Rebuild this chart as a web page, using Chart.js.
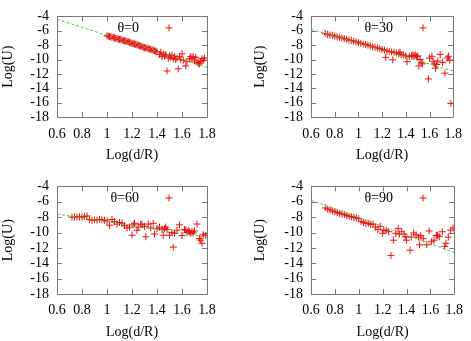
<!DOCTYPE html>
<html><head><meta charset="utf-8">
<script src="https://cdn.jsdelivr.net/npm/chart.js@4/dist/chart.umd.min.js"></script>
<style>
html,body{margin:0;padding:0;background:#fff;}
#wrap{position:relative;width:471px;height:341px;overflow:hidden;background:#fff;}
canvas{position:absolute;}
</style></head><body>
<div id="wrap">
<canvas id="c0" width="235" height="170" style="left:0px;top:0px;width:235px;height:170px"></canvas>
<canvas id="c1" width="236" height="170" style="left:235px;top:0px;width:236px;height:170px"></canvas>
<canvas id="c2" width="235" height="171" style="left:0px;top:170px;width:235px;height:171px"></canvas>
<canvas id="c3" width="236" height="171" style="left:235px;top:170px;width:236px;height:171px"></canvas>
</div>
<script>
// ---- data ----
const panelLabels = ['θ=0', 'θ=30', 'θ=60', 'θ=90'];
const xTickLabels = ['0.6', '0.8', '1', '1.2', '1.4', '1.6', '1.8'];
const yTickLabels = ['-18', '-16', '-14', '-12', '-10', '-8', '-6', '-4'];
const xTitle = 'Log(d/R)';
const yTitle = 'Log(U)';

const x0 = [1.00,1.01,1.02,1.03,1.04,1.05,1.06,1.07,1.08,1.09,1.10,1.11,1.12,1.13,1.14,1.15,1.16,1.17,1.18,1.19,1.20,1.21,1.22,1.23,1.24,1.25,1.26,1.27,1.28,1.29,1.30,1.31,1.32,1.33,1.34,1.35,1.36,1.37,1.38,1.39,1.40,1.42,1.43,1.44,1.45,1.46,1.47,1.48,1.49,1.50,1.51,1.52,1.53,1.54,1.55,1.56,1.57,1.58,1.59,1.60,1.61,1.63,1.64,1.66,1.67,1.68,1.69,1.70,1.71,1.72,1.73,1.74,1.75,1.76,1.77,1.78];
const y0 = [-6.7,-6.75,-6.8,-6.85,-6.9,-6.9,-7.0,-7.05,-7.1,-7.15,-7.2,-7.2,-7.3,-7.35,-7.4,-7.45,-7.5,-7.55,-7.6,-7.7,-7.75,-7.8,-7.85,-7.9,-7.95,-8.0,-8.1,-8.15,-8.2,-8.3,-8.35,-8.4,-8.4,-8.5,-8.55,-8.6,-8.65,-8.7,-8.8,-8.85,-8.9,-9.3,-9.0,-9.6,-9.2,-9.5,-9.3,-11.6,-9.8,-9.5,-9.7,-9.4,-9.9,-9.6,-10.0,-9.8,-11.3,-9.6,-10.0,-9.2,-10.1,-10.9,-10.3,-9.9,-9.6,-9.8,-9.6,-10.2,-9.7,-10.4,-10.5,-10.6,-10.3,-9.9,-10.1,-9.8];

const x1 = [0.72,0.74,0.76,0.78,0.80,0.82,0.84,0.86,0.88,0.90,0.92,0.94,0.96,0.98,1.00,1.02,1.04,1.06,1.08,1.10,1.12,1.14,1.16,1.18,1.20,1.22,1.23,1.24,1.26,1.28,1.29,1.30,1.32,1.34,1.35,1.36,1.38,1.40,1.41,1.43,1.45,1.46,1.47,1.48,1.49,1.50,1.51,1.52,1.53,1.54,1.59,1.60,1.62,1.63,1.64,1.65,1.66,1.67,1.69,1.71,1.73,1.75,1.76,1.77,1.78];
const y1 = [-6.4,-6.5,-6.6,-6.65,-6.75,-6.85,-6.9,-7.0,-7.1,-7.2,-7.3,-7.35,-7.45,-7.55,-7.65,-7.75,-7.85,-7.9,-8.0,-8.1,-8.25,-8.3,-8.4,-8.5,-8.6,-8.7,-9.7,-8.8,-8.9,-8.95,-10.05,-9.0,-9.1,-9.2,-9.0,-9.3,-9.35,-9.5,-10.3,-9.6,-9.45,-9.4,-9.5,-9.4,-9.6,-9.5,-10.9,-10.0,-10.4,-10.6,-12.7,-9.8,-9.55,-10.3,-10.6,-11.2,-10.7,-10.2,-9.3,-10.4,-11.9,-9.8,-9.55,-10.1,-16.1];

const x2 = [0.72,0.74,0.76,0.78,0.80,0.82,0.84,0.86,0.88,0.90,0.92,0.94,0.96,0.98,1.00,1.02,1.04,1.06,1.08,1.10,1.12,1.14,1.16,1.18,1.20,1.21,1.22,1.24,1.25,1.27,1.28,1.30,1.31,1.33,1.35,1.37,1.38,1.40,1.42,1.44,1.45,1.46,1.47,1.48,1.50,1.52,1.53,1.54,1.56,1.58,1.60,1.62,1.63,1.64,1.65,1.66,1.67,1.68,1.69,1.70,1.72,1.74,1.75,1.76,1.77,1.79];
const y2 = [-8.0,-7.95,-8.0,-7.95,-8.0,-7.9,-7.85,-8.3,-8.4,-8.35,-8.4,-8.3,-8.35,-8.4,-8.5,-9.05,-8.3,-8.6,-8.9,-8.7,-8.8,-9.1,-9.4,-9.3,-10.35,-9.0,-8.8,-9.7,-9.3,-8.9,-9.0,-9.2,-10.55,-8.9,-9.4,-8.8,-10.2,-9.5,-9.3,-9.6,-10.35,-9.5,-9.3,-9.6,-10.35,-10.0,-11.9,-10.1,-9.7,-9.0,-10.4,-9.6,-9.7,-10.0,-9.8,-9.9,-10.1,-9.9,-10.05,-9.8,-8.9,-10.8,-11.0,-11.4,-10.3,-10.4];

const x3 = [0.72,0.74,0.76,0.78,0.80,0.82,0.84,0.86,0.88,0.90,0.92,0.94,0.96,0.98,1.00,1.02,1.04,1.06,1.08,1.10,1.12,1.14,1.16,1.18,1.20,1.21,1.23,1.25,1.27,1.29,1.31,1.33,1.34,1.36,1.38,1.39,1.40,1.43,1.44,1.46,1.48,1.50,1.51,1.52,1.54,1.57,1.59,1.61,1.63,1.65,1.66,1.675,1.70,1.72,1.73,1.75,1.77,1.79];
const y3 = [-6.8,-6.95,-7.05,-7.2,-7.3,-7.4,-7.5,-7.6,-7.65,-7.8,-7.9,-7.95,-8.05,-8.1,-8.2,-8.55,-8.7,-8.8,-8.8,-8.95,-8.9,-9.3,-9.6,-9.2,-10.1,-9.7,-9.7,-9.9,-13.0,-11.0,-10.1,-9.5,-10.2,-9.9,-10.2,-10.55,-11.0,-12.3,-10.6,-10.05,-10.3,-10.6,-11.6,-10.4,-10.8,-11.6,-9.8,-11.2,-11.0,-10.4,-10.35,-10.55,-9.9,-11.8,-11.4,-10.6,-9.7,-9.4];

// fit line endpoints
const fitX = [0.6, 1.8];
const fit0 = [-4.4, -11.1];
const fit1 = [-5.8, -11.6];
const fit2 = [-7.6, -10.6];
const fit3 = [-5.8, -12.6];

// ---- drawing ----
const FONT = 'Liberation Serif, Times New Roman, serif';
const RED = '#ee1111';
const GREEN = '#44cc44';
const FRAME = '#777777';

function pts(xs, ys) { return xs.map((x, i) => ({x: x, y: ys[i]})); }

const framePlugin = {
  id: 'frame',
  beforeDatasetsDraw(chart) {
    const {ctx, chartArea: a, scales: {x, y}} = chart;
    ctx.save();
    ctx.strokeStyle = FRAME;
    ctx.lineWidth = 1;
    ctx.beginPath();
    ctx.rect(Math.round(a.left) + 0.5, Math.round(a.top) + 0.5, Math.round(a.right - a.left), Math.round(a.bottom - a.top));
    const L = 5;
    x.ticks.forEach(t => {
      const px = Math.round(x.getPixelForValue(t.value)) + 0.5;
      ctx.moveTo(px, a.bottom); ctx.lineTo(px, a.bottom - L);
      ctx.moveTo(px, a.top); ctx.lineTo(px, a.top + L);
    });
    y.ticks.forEach(t => {
      const py = Math.round(y.getPixelForValue(t.value)) + 0.5;
      ctx.moveTo(a.left, py); ctx.lineTo(a.left + L, py);
      ctx.moveTo(a.right, py); ctx.lineTo(a.right - L, py);
    });
    ctx.stroke();
    ctx.restore();
  },
  afterDraw(chart) {
    const {ctx, chartArea: a} = chart;
    const label = chart.options.plugins.frame.label;
    ctx.save();
    ctx.font = '14px ' + FONT;
    ctx.fillStyle = '#000';
    ctx.textAlign = 'right';
    ctx.textBaseline = 'middle';
    const ty = a.top + 11.5;
    ctx.fillText(label, a.left + 82, ty);
    const mx = a.left + 112;
    ctx.strokeStyle = RED;
    ctx.lineWidth = 1;
    ctx.beginPath();
    ctx.moveTo(mx - 3.5, ty); ctx.lineTo(mx + 3.5, ty);
    ctx.moveTo(mx, ty - 3.5); ctx.lineTo(mx, ty + 3.5);
    ctx.stroke();
    ctx.restore();
  }
};

function makePanel(id, xs, ys, fitY, label, pad, yWidth, xHeight, xTickPad, xTitlePad) {
  new Chart(document.getElementById(id), {
    type: 'scatter',
    data: {
      datasets: [
        {
          data: pts(fitX, fitY), showLine: true, pointRadius: 0,
          borderColor: GREEN, borderWidth: 1, borderDash: [3, 2], fill: false
        },
        {
          data: pts(xs, ys), pointStyle: 'cross', pointRadius: 3.5,
          borderColor: RED, backgroundColor: RED, pointBorderWidth: 1, showLine: false
        }
      ]
    },
    options: {
      responsive: false, animation: false, devicePixelRatio: 1,
      layout: {padding: pad},
      plugins: {legend: {display: false}, tooltip: {enabled: false}, frame: {label: label}},
      scales: {
        x: {
          type: 'linear', min: 0.6, max: 1.8,
          afterFit: s => { s.height = xHeight; },
          afterBuildTicks: s => { s.ticks = xTickLabels.map(v => ({value: parseFloat(v)})); },
          grid: {display: false, drawTicks: false}, border: {display: false},
          ticks: {
            color: '#000', font: {family: FONT, size: 14}, padding: xTickPad,
            maxRotation: 0, autoSkip: false,
            callback: (v, i) => xTickLabels[i]
          },
          title: {display: true, text: xTitle, color: '#000', font: {family: FONT, size: 14}, padding: {top: 0, bottom: xTitlePad}}
        },
        y: {
          type: 'linear', min: -18, max: -4,
          afterFit: s => { s.width = yWidth; },
          afterBuildTicks: s => { s.ticks = yTickLabels.map(v => ({value: parseFloat(v)})); },
          grid: {display: false, drawTicks: false}, border: {display: false},
          ticks: {
            color: '#000', font: {family: FONT, size: 14}, padding: 8, autoSkip: false,
            callback: (v, i) => yTickLabels[i]
          },
          title: {display: true, text: yTitle, color: '#000', font: {family: FONT, size: 14}, padding: {top: 0, bottom: 0}}
        }
      }
    },
    plugins: [framePlugin]
  });
}

makePanel('c0', x0, y0, fit0, panelLabels[0], {left: 0, right: 28, top: 6, bottom: 0}, 57, 53, 9, 6);
makePanel('c1', x1, y1, fit1, panelLabels[1], {left: 17, right: 13, top: 6, bottom: 0}, 59, 53, 9, 6);
makePanel('c2', x2, y2, fit2, panelLabels[2], {left: 0, right: 28, top: 13, bottom: 0}, 57, 47, 8, 0);
makePanel('c3', x3, y3, fit3, panelLabels[3], {left: 17, right: 13, top: 13, bottom: 0}, 59, 47, 8, 0);
</script>
</body></html>
